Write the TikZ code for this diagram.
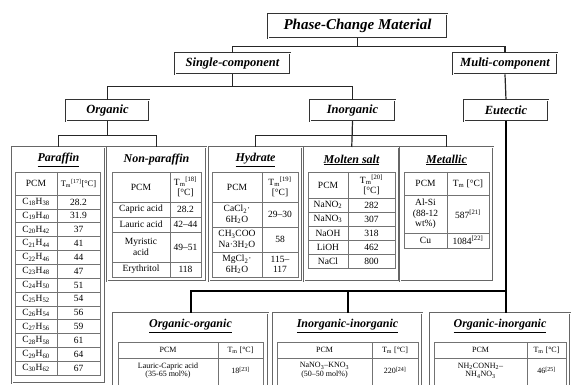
\documentclass[tikz,border=0pt]{standalone}
\usepackage{fontspec}
\setmainfont{Liberation Serif}
\begin{document}
\begin{tikzpicture}[x=1pt,y=-1pt,
  hbox/.style={draw=black!80, double=white, double distance=0.8pt, line width=0.7pt, inner sep=0pt, font=\fontsize{12.5}{14}\selectfont\bfseries\itshape},
  frame/.style={draw=black!60, double=white, double distance=0.9pt, line width=0.5pt, anchor=north west, inner sep=0pt},
  grid/.style={draw=black!55, line width=0.55pt},
  conn/.style={line width=1.2pt, draw=black!85},
  tconn/.style={line width=1.7pt, draw=black},
  cell/.style={font=\fontsize{9.5}{10.5}\selectfont, align=center, inner sep=0pt},
  scell/.style={font=\fontsize{8}{8.8}\selectfont, align=center, inner sep=0pt},
  ttl/.style={font=\fontsize{12}{13}\selectfont\bfseries\itshape, inner sep=0pt},
]
\useasboundingbox (0,0) rectangle (571,385);
\clip (0,0) rectangle (571,385);
\fill[white] (0,0) rectangle (571,385);

% ---- tree header boxes
\node[hbox, minimum width=179, minimum height=24, font=\fontsize{15}{17}\selectfont\bfseries\itshape] (pcm) at (357.5,26) {Phase-Change Material};
\node[hbox, minimum width=115, minimum height=21] (single) at (232.5,63.5) {Single-component};
\node[hbox, minimum width=104, minimum height=21] (multi) at (505,63.5) {Multi-component};
\node[hbox, minimum width=83, minimum height=21] (organic) at (107.5,110.5) {Organic};
\node[hbox, minimum width=85, minimum height=21] (inorganic) at (352.5,110.5) {Inorganic};
\node[hbox, minimum width=84, minimum height=21] (eutectic) at (506,110.5) {Eutectic};

% ---- table frames
\node[frame, minimum width=93, minimum height=236] (paraffin) at (12,147) {};
\node[frame, minimum width=99, minimum height=134] (nonpar) at (107,147) {};
\node[frame, minimum width=93, minimum height=134] (hydrate) at (209,147) {};
\node[frame, minimum width=95, minimum height=134] (molten) at (304,147) {};
\node[frame, minimum width=93, minimum height=134] (metallic) at (400,147) {};
\node[frame, minimum width=155, minimum height=90] (oo) at (113,313) {};
\node[frame, minimum width=149, minimum height=90] (ii) at (273,313) {};
\node[frame, minimum width=140, minimum height=90] (oi) at (430,313) {};

% ---- connectors
\draw[conn] (pcm.south) -- ++(0,8) -| (single.north);
\draw[conn] (pcm.south) -- ++(0,8) -| (multi.north);
\draw[conn] (single.south) -- ++(0,12) -| (organic.north);
\draw[conn] (single.south) -- ++(0,12) -| (inorganic.north);
\draw[conn] (multi.south) -- (eutectic.north);
\draw[conn] (organic.south) -- ++(0,14) -| (paraffin.north);
\draw[conn] (organic.south) -- ++(0,14) -| (nonpar.north);
\draw[conn] (inorganic.south) -- (molten.north);
\draw[conn] (inorganic.south) -- ++(0,14) -| (hydrate.north);
\draw[conn] (inorganic.south) -- ++(0,14) -| (metallic.north);
\coordinate (edrop) at (506,313);
\coordinate (ebus) at (506,291);
\draw[tconn] (eutectic.south) -- (edrop);
\draw[tconn] (ebus) -| (oo.north);
\draw[tconn] (ebus) -| (ii.north);

% ---- titles
\node[ttl] (tpar) at (58.5,160) {\underline{Paraffin}};
\node[ttl] (tnon) at (156.5,160) {Non-paraffin};
\node[ttl] (thyd) at (255.5,160) {\underline{Hydrate}};
\node[ttl] (tmol) at (351.5,160) {\underline{Molten salt}};
\node[ttl] (tmet) at (446.5,160) {\underline{Metallic}};
\node[ttl] (too) at (190.5,326) {\underline{Organic-organic}};
\node[ttl] (tii) at (347.5,326) {\underline{Inorganic-inorganic}};
\node[ttl] (toi) at (500,326) {\underline{Organic-inorganic}};

% ---- Paraffin table
\draw[grid] (15,172) rectangle (100,375);
\draw[grid] (57,172) -- (57,375);
\draw[grid] (15,195) -- (100,195);
\foreach \i in {1,...,12} \draw[grid] (15,{195+\i*13.85}) -- (100,{195+\i*13.85});
\node[cell] (pah) at (36,183.5) {PCM};
\node[cell, font=\fontsize{8.5}{9}\selectfont] (pbh) at (78.5,183.5) {T\textsubscript{m}\textsuperscript{[17]}[°C]};
\foreach \a/\b/\v [count=\i] in {18/38/28.2, 19/40/31.9, 20/42/37, 21/44/41, 22/46/44, 23/48/47, 24/50/51, 25/52/54, 26/54/56, 27/56/59, 28/58/61, 29/60/64, 30/62/67}{
  \node[cell] (pa\i) at (36,{195+(\i-0.5)*13.85}) {C\textsubscript{\a}H\textsubscript{\b}};
  \node[cell] (pb\i) at (78.5,{195+(\i-0.5)*13.85}) {\v};
}

% ---- Non-paraffin table
\draw[grid] (112,172) rectangle (201,277);
\draw[grid] (170,172) -- (170,277);
\foreach \y in {202,217,232,262} \draw[grid] (112,\y) -- (201,\y);
\node[cell] (nah) at (141,187) {PCM};
\node[cell] (nbh) at (185.5,187) {T\textsubscript{m}\textsuperscript{[18]}\\{}[°C]};
\node[cell] (na1) at (141,209.5) {Capric acid};
\node[cell] (nb1) at (185.5,209.5) {28.2};
\node[cell] (na2) at (141,224.5) {Lauric acid};
\node[cell] (nb2) at (185.5,224.5) {42–44};
\node[cell] (na3) at (141,247) {Myristic\\acid};
\node[cell] (nb3) at (185.5,247) {49–51};
\node[cell] (na4) at (141,269.5) {Erythritol};
\node[cell] (nb4) at (185.5,269.5) {118};

% ---- Hydrate table
\draw[grid] (212,172) rectangle (298,277);
\draw[grid] (262,172) -- (262,277);
\foreach \y in {202,227,252} \draw[grid] (212,\y) -- (298,\y);
\node[cell] (hah) at (237,187) {PCM};
\node[cell] (hbh) at (280,187) {T\textsubscript{m}\textsuperscript{[19]}\\{}[°C]};
\node[cell] (ha1) at (237,214.5) {CaCl\textsubscript{2}·\\6H\textsubscript{2}O};
\node[cell] (hb1) at (280,214.5) {29–30};
\node[cell] (ha2) at (237,239.5) {CH\textsubscript{3}COO\\Na·3H\textsubscript{2}O};
\node[cell] (hb2) at (280,239.5) {58};
\node[cell] (ha3) at (237,264.5) {MgCl\textsubscript{2}·\\6H\textsubscript{2}O};
\node[cell] (hb3) at (280,264.5) {115–\\117};

% ---- Molten salt table
\draw[grid] (308,172) rectangle (395,268);
\draw[grid] (348,172) -- (348,268);
\foreach \y in {198,212,226,240,254} \draw[grid] (308,\y) -- (395,\y);
\node[cell] (mah) at (328,185) {PCM};
\node[cell] (mbh) at (371.5,185) {T\textsubscript{m}\textsuperscript{[20]}\\{}[°C]};
\foreach \s/\v [count=\i] in {NaNO\textsubscript{2}/282, NaNO\textsubscript{3}/307, NaOH/318, LiOH/462, NaCl/800}{
  \node[cell] (ma\i) at (328,{198+(\i-0.5)*14}) {\s};
  \node[cell] (mb\i) at (371.5,{198+(\i-0.5)*14}) {\v};
}

% ---- Metallic table
\draw[grid] (404,172) rectangle (489,248);
\draw[grid] (447,172) -- (447,248);
\foreach \y in {195,233} \draw[grid] (404,\y) -- (489,\y);
\node[cell] (tah) at (425.5,183.5) {PCM};
\node[cell] (tbh) at (468,183.5) {T\textsubscript{m} [°C]};
\node[cell] (ta1) at (425.5,214) {Al-Si\\(88-12\\wt\%)};
\node[cell] (tb1) at (468,214) {587\textsuperscript{[21]}};
\node[cell] (ta2) at (425.5,240.5) {Cu};
\node[cell] (tb2) at (468,240.5) {1084\textsuperscript{[22]}};

% ---- bottom tables
\draw[grid] (118,342) rectangle (263,395);
\draw[grid] (218,342) -- (218,395);
\draw[grid] (118,358) -- (263,358);
\node[scell] (oah) at (168,350) {PCM};
\node[scell] (obh) at (240.5,350) {T\textsubscript{m} [°C]};
\node[scell] (oa1) at (168,370.5) {Lauric-Capric acid\\(35-65 mol\%)};
\node[scell] (ob1) at (240.5,370.5) {18\textsuperscript{[23]}};

\draw[grid] (277,342) rectangle (418,395);
\draw[grid] (372,342) -- (372,395);
\draw[grid] (277,358) -- (418,358);
\node[scell] (iah) at (324.5,350) {PCM};
\node[scell] (ibh) at (395,350) {T\textsubscript{m} [°C]};
\node[scell] (ia1) at (324.5,370.5) {NaNO\textsubscript{3}–KNO\textsubscript{3}\\(50–50 mol\%)};
\node[scell] (ib1) at (395,370.5) {220\textsuperscript{[24]}};

\draw[grid] (434,342) rectangle (566,395);
\draw[grid] (527,342) -- (527,395);
\draw[grid] (434,358) -- (566,358);
\node[scell] (xah) at (480.5,350) {PCM};
\node[scell] (xbh) at (546.5,350) {T\textsubscript{m} [°C]};
\node[scell] (xa1) at (480.5,370.5) {NH\textsubscript{2}CONH\textsubscript{2}–\\NH\textsubscript{4}NO\textsubscript{3}};
\node[scell] (xb1) at (546.5,370.5) {46\textsuperscript{[25]}};
\end{tikzpicture}
\end{document}
